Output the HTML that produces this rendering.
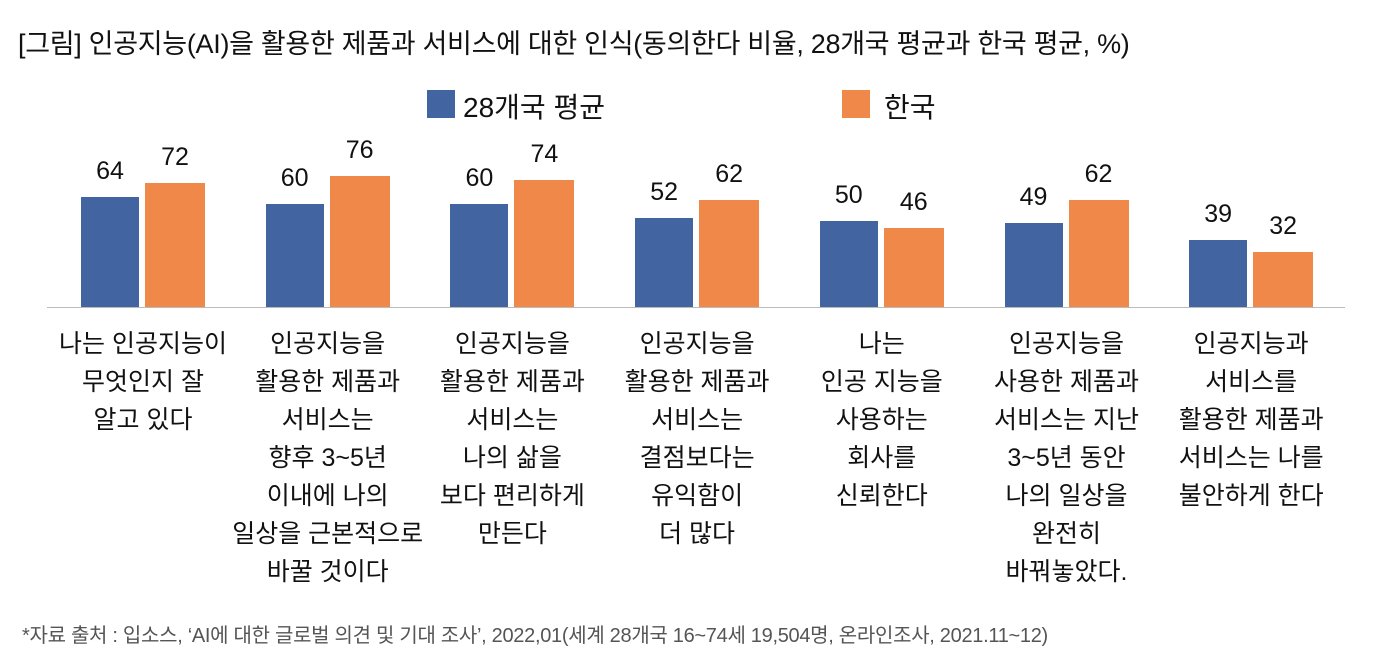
<!DOCTYPE html>
<html><head><meta charset="utf-8"><style>
body{margin:0;width:1374px;height:670px;background:#fff;font-family:"Liberation Sans","Noto Sans CJK KR",sans-serif;color:#111;position:relative;overflow:hidden}
.a{position:absolute;white-space:nowrap}
.bar{position:absolute}
.b{background:#4264a0}.o{background:#f0884a}
.v{position:absolute;font-size:25px;text-align:center;width:80px}
.lab{position:absolute;top:325px;width:220px;text-align:center;font-size:25px;line-height:38px;white-space:nowrap}
</style></head><body>
<div class="a" style="left:18px;top:22px;font-size:27px;letter-spacing:-0.3px">[그림] 인공지능(AI)을 활용한 제품과 서비스에 대한 인식(동의한다 비율, 28개국 평균과 한국 평균, %)</div>
<div class="a b" style="left:427px;top:90px;width:28px;height:28px"></div>
<div class="a" style="left:463px;top:86px;font-size:28px">28개국 평균</div>
<div class="a o" style="left:842px;top:90px;width:28px;height:28px"></div>
<div class="a" style="left:884px;top:86px;font-size:28px">한국</div>
<div class="a" style="left:47px;top:307px;width:1298px;height:1px;background:#bbb"></div>
<div id="c"></div>
<div class="a" style="left:22px;top:619px;font-size:20px;color:#555;letter-spacing:-0.3px">*자료 출처 : 입소스, ‘AI에 대한 글로벌 의견 및 기대 조사’, 2022,01(세계 28개국 16~74세 19,504명, 온라인조사, 2021.11~12)</div>
<script>
var d=[[64,72,"나는 인공지능이<br>무엇인지 잘<br>알고 있다"],[60,76,"인공지능을<br>활용한 제품과<br>서비스는<br>향후 3~5년<br>이내에 나의<br>일상을 근본적으로<br>바꿀 것이다"],[60,74,"인공지능을<br>활용한 제품과<br>서비스는<br>나의 삶을<br>보다 편리하게<br>만든다"],[52,62,"인공지능을<br>활용한 제품과<br>서비스는<br>결점보다는<br>유익함이<br>더 많다"],[50,46,"나는<br>인공 지능을<br>사용하는<br>회사를<br>신뢰한다"],[49,62,"인공지능을<br>사용한 제품과<br>서비스는 지난<br>3~5년 동안<br>나의 일상을<br>완전히<br>바꿔놓았다."],[39,32,"인공지능과<br>서비스를<br>활용한 제품과<br>서비스는 나를<br>불안하게 한다"]];
var h="",base=307,k=1.72;
d.forEach(function(g,i){var x=81+i*184.7;
var hb=g[0]*k,ho=g[1]*k;
h+='<div class="bar b" style="left:'+x+'px;top:'+(base-hb)+'px;width:58px;height:'+hb+'px"></div>';
h+='<div class="bar o" style="left:'+(x+64)+'px;top:'+(base-ho)+'px;width:60px;height:'+ho+'px"></div>';
h+='<div class="v" style="left:'+(x-11)+'px;top:'+(base-hb-40)+'px">'+g[0]+'</div>';
h+='<div class="v" style="left:'+(x+54)+'px;top:'+(base-ho-40)+'px">'+g[1]+'</div>';
h+='<div class="lab" style="left:'+(x+62-110)+'px">'+g[2]+'</div>';});
document.getElementById("c").innerHTML=h;
</script>
</body></html>
